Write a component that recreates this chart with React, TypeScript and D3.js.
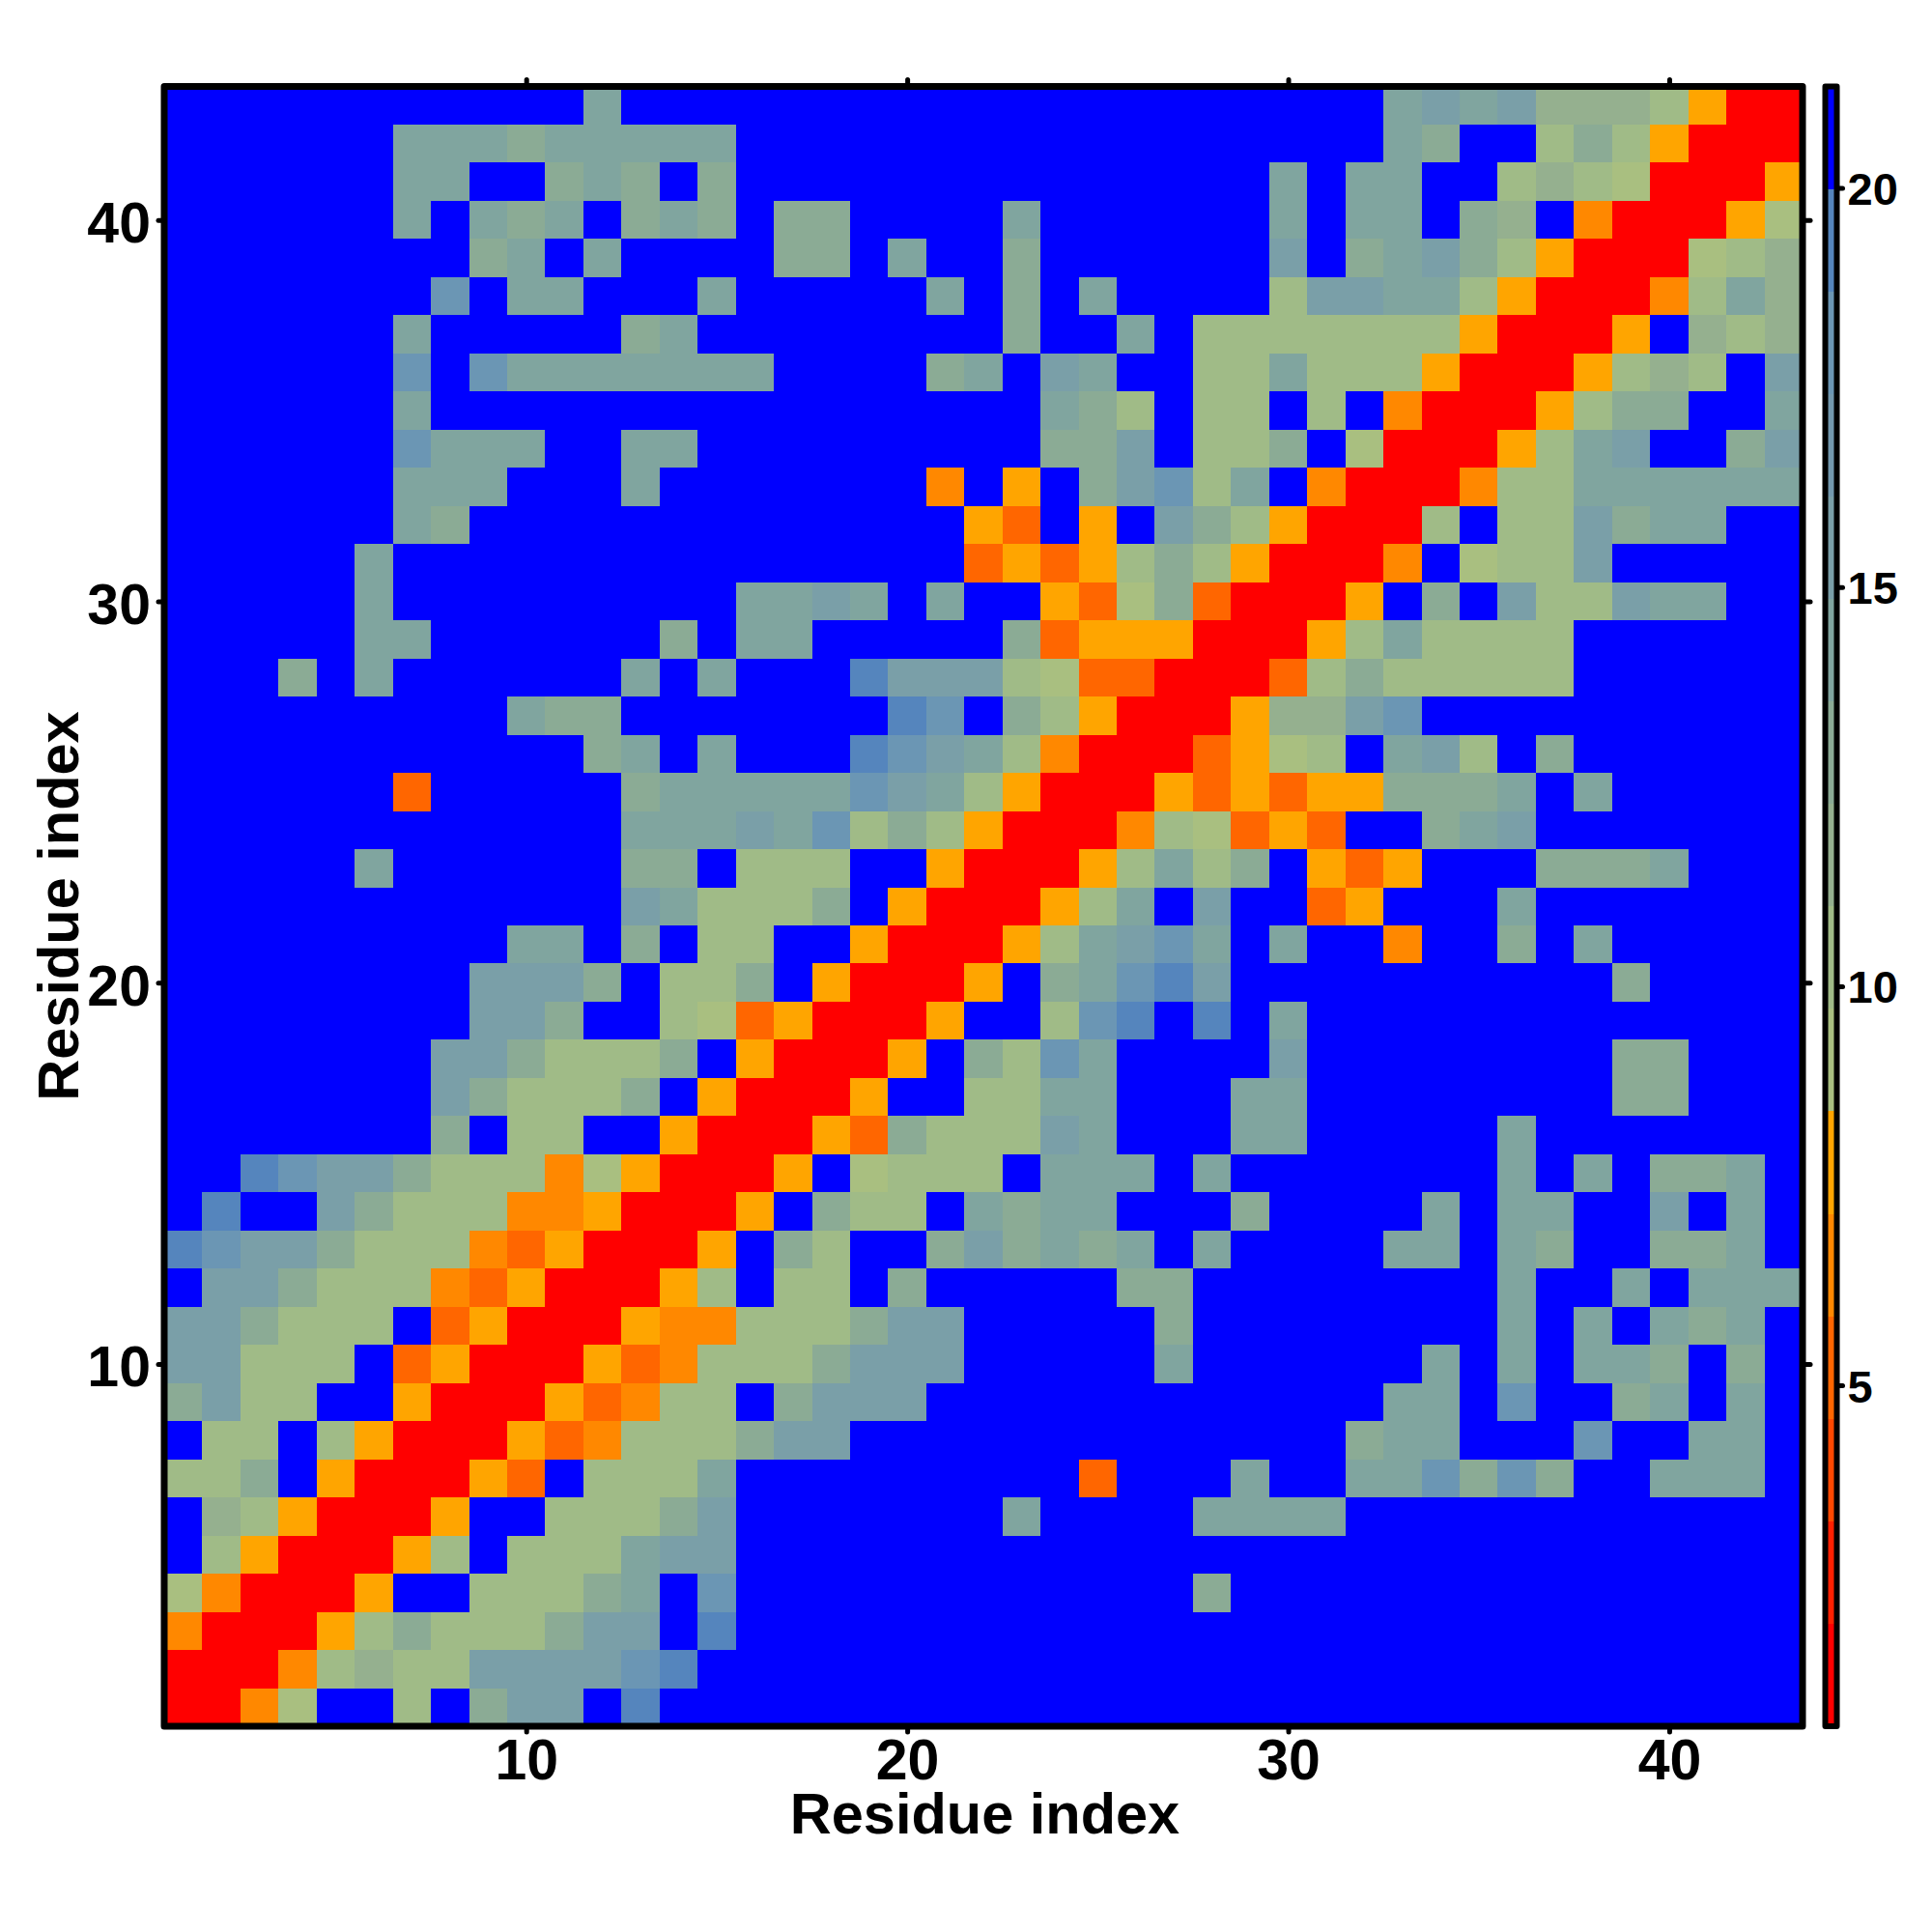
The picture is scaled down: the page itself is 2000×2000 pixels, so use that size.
import React, { useEffect, useRef } from "react";
import * as d3 from "d3";

// Band of each residue pair, top row is residue 43.
// Groups of ten columns are only there to keep the counting honest.
const mapRows: string[] = [
  ".......... .m........ .......... ..mkmkuuus aRR",
  "......mmmt mmmmm..... .......... ..mt..stsa RRR",
  "......mm.. tmt.t..... .........m .mm..susgR RRa",
  "......m.mt m.tmt.tt.. ..m......m .mm.tu.oRR Rag",
  "........tm .m....tt.m ..t......k .tmktsaRRR gsu",
  ".......l.m m...m..... m.t.m....s kkmmsaRRRo smu",
  "......m... ..tm...... ..t..m.sss ssssaRRRa. usu",
  "......l.lm mmmmmm.... tm.km..ssm sssaRRRasu s.k",
  "......m... .......... ...mts.ss. s.oRRRastt ..m",
  "......lmmm ..mm...... ...ttk.sst .gRRRasmk. .tk",
  "......mmm. ..m....... o.a.tklsm. oRRRossmmm mmm",
  "......mt.. .......... .ad.a.ktsa RRRs.ssktm m..",
  ".....m.... .......... .dadastsaR RRo.gssk.. ...",
  ".....m.... .....mmkm. m..adgtdRR Ra.t.ksskm m..",
  ".....mm... ...t.mm... ..tdaaaRRR asmssss... ...",
  "...t.m.... ..m.m...nk kksgddRRRd stsssss... ...",
  ".........m tt.......n l.tsaRRRau ukl....... ...",
  ".......... .tm.m...nl kmsoRRRdag s.mks.t... ...",
  "......d... ..tmmmmmlk msaRRRadad aatttm.m.. ...",
  ".......... ..mmmkmlst saRRRosgda d..tmk.... ...",
  ".....m.... ..tt.sss.. aRRRasmst. ada...tttm ...",
  ".......... ..kmssst.a RRRasm.k.. da...m.... ...",
  ".........m m.t.ss..aR RRasmklm.m ..o..t.m.. ...",
  "........kk kt.sst.aRR Ra.tmlnk.. ........t. ...",
  "........kk t..sgdaRRR a..sln.n.m .......... ...",
  ".......kkt ssst.aRRRa .tslm....k ........tt ...",
  ".......kts sst.aRRRa. .ssmm...mm ........tt ...",
  ".......t.s s..aRRRadt ssskm...mm .....m.... ...",
  "..nlkktsss ogaRRRa.gs ss.mmm.m.. .....m.m.t tm.",
  ".n..ktssso oaRRRa.tss .mtmm...t. ...m.mm..k .m.",
  "nlkktsssod aRRRa.ts.. tktmtm.m.. ..mm.mt..t tm.",
  ".kktsssoda RRRas.ss.t .....tt... .....m..m. mmm",
  "kktsss.daR RRaoossstk k.....t... .....m.m.m tm.",
  "kksss.daRR Radossstkk k.....m... ...m.m.mmt .t.",
  "tkss..aRRR adoss.tkkk .......... ..mm.l..tm .m.",
  ".ss.saRRRa dossstkk.. .......... .tmm...l.. mm.",
  "sst.aRRRad .sssm..... ....d...m. .mmltlt..m mm.",
  ".usaRRRa.. ssstk..... ..m....mmm m......... ...",
  ".saRRRas.s ssmkk..... .......... .......... ...",
  "goRRRa..ss stm.l..... .......t.. .......... ...",
  "oRRRastsss tkk.n..... .......... .......... ...",
  "RRRosusskk kkln...... .......... .......... ...",
  "RRog..s.tk k.n....... .......... .......... ...",
];

// Distance (mid band) for each letter used in mapRows
const bandValues: Record<string, number> = {
  R: 1.4, d: 5.2, o: 6.5, a: 7.8, g: 9.1, s: 10.4, u: 11.7,
  t: 12.9, m: 14.2, k: 15.5, l: 18, n: 19.3, ".": 20.6,
};

const bandColors = [
  "#ff0000", "#ff2000", "#ff4800", "#ff6600", "#ff8800", "#ffa500",
  "#a9bf80", "#a0bb87", "#95b08f", "#8bab95", "#80a59f", "#7a9fa8",
  "#7398ae", "#6b96b4", "#5585bd", "#0000ff",
];

const axisTicks = [10, 20, 30, 40];
const colorTicks = [5, 10, 15, 20];
const axisTitle = "Residue index";

const App: React.FC = () => {
  const svgRef = useRef<SVGSVGElement | null>(null);

  useEffect(() => {
    if (!svgRef.current) return;
    const svg = d3.select(svgRef.current);
    svg.selectAll("*").remove();
    svg.style("font-family", "'Liberation Sans', Arial, sans-serif").style("font-weight", 700);

    const x = d3.scaleLinear().domain([0.5, 43.5]).range([170, 1866]);
    const y = d3.scaleLinear().domain([0.5, 43.5]).range([1787, 89.5]);
    const colorDomain: [number, number] = [0.73, 21.27];
    const color = d3.scaleQuantize<string>().domain(colorDomain).range(bandColors);
    const barY = d3.scaleLinear().domain(colorDomain).range([1787, 89.5]);

    const cells = mapRows.flatMap((row, i) =>
      row.replace(/ /g, "").split("").map((key, j) => ({
        res1: j + 1,
        res2: 43 - i,
        value: bandValues[key],
      }))
    );

    // Heat map
    svg
      .append("g")
      .attr("shape-rendering", "crispEdges")
      .selectAll("rect")
      .data(cells)
      .enter()
      .append("rect")
      .attr("x", (d) => x(d.res1 - 0.5))
      .attr("y", (d) => y(d.res2 + 0.5))
      .attr("width", (d) => x(d.res1 + 0.5) - x(d.res1 - 0.5))
      .attr("height", (d) => y(d.res2 - 0.5) - y(d.res2 + 0.5))
      .attr("fill", (d) => color(d.value));

    // Ticks on all four sides, labels only bottom and left
    const drawAxis = (axis: d3.Axis<d3.NumberValue>, labelled: boolean) => {
      const g = svg.append("g").call(axis);
      g.select(".domain").remove();
      g.selectAll(".tick line")
        .attr("stroke", "black")
        .attr("stroke-width", 5)
        .attr("stroke-linecap", "round");
      if (!labelled) g.selectAll(".tick text").remove();
      return g;
    };

    const bottom = drawAxis(d3.axisBottom(x).tickValues(axisTicks).tickSize(6), true);
    bottom.attr("transform", "translate(0,1787)");
    bottom
      .selectAll(".tick text")
      .attr("font-size", 59)
      .attr("fill", "black")
      .attr("y", 55)
      .attr("dy", 0);

    const left = drawAxis(d3.axisLeft(y).tickValues(axisTicks).tickSize(6), true);
    left.attr("transform", "translate(170,0)");
    left
      .selectAll(".tick text")
      .attr("font-size", 59)
      .attr("fill", "black")
      .attr("x", -14)
      .attr("y", 23)
      .attr("dy", 0);

    drawAxis(d3.axisTop(x).tickValues(axisTicks).tickSize(7), false).attr("transform", "translate(0,89.5)");
    drawAxis(d3.axisRight(y).tickValues(axisTicks).tickSize(8), false).attr("transform", "translate(1866,0)");

    svg
      .append("rect")
      .attr("x", 170)
      .attr("y", 89.5)
      .attr("width", 1696)
      .attr("height", 1697.5)
      .attr("fill", "none")
      .attr("stroke", "black")
      .attr("stroke-width", 7)
      .attr("stroke-linejoin", "round");

    // Axis titles
    svg
      .append("text")
      .attr("x", 1019.5)
      .attr("y", 1898)
      .attr("text-anchor", "middle")
      .attr("font-size", 59.5)
      .text(axisTitle);
    svg
      .append("text")
      .attr("transform", "translate(81,938) rotate(-90)")
      .attr("text-anchor", "middle")
      .attr("font-size", 59.5)
      .text(axisTitle);

    // Colour bar
    const [lo, hi] = colorDomain;
    const edges = [lo, ...color.thresholds(), hi];
    svg
      .append("g")
      .attr("shape-rendering", "crispEdges")
      .selectAll("rect")
      .data(bandColors)
      .enter()
      .append("rect")
      .attr("x", 1889.5)
      .attr("width", 12)
      .attr("y", (_, i) => barY(edges[i + 1]))
      .attr("height", (_, i) => barY(edges[i]) - barY(edges[i + 1]))
      .attr("fill", (d) => d);

    const bar = drawAxis(d3.axisRight(barY).tickValues(colorTicks).tickSize(6), true);
    bar.attr("transform", "translate(1901.5,0)");
    bar
      .selectAll(".tick text")
      .attr("font-size", 47)
      .attr("fill", "black")
      .attr("x", 11)
      .attr("y", 17)
      .attr("dy", 0);

    svg
      .append("rect")
      .attr("x", 1889.5)
      .attr("y", 89.5)
      .attr("width", 12)
      .attr("height", 1697.5)
      .attr("fill", "none")
      .attr("stroke", "black")
      .attr("stroke-width", 6)
      .attr("stroke-linejoin", "round");
  }, []);

  return (
    <svg
      ref={svgRef}
      width={2000}
      height={2000}
      style={{ position: "absolute", left: 0, top: 0, background: "white" }}
    />
  );
};

export default App;
